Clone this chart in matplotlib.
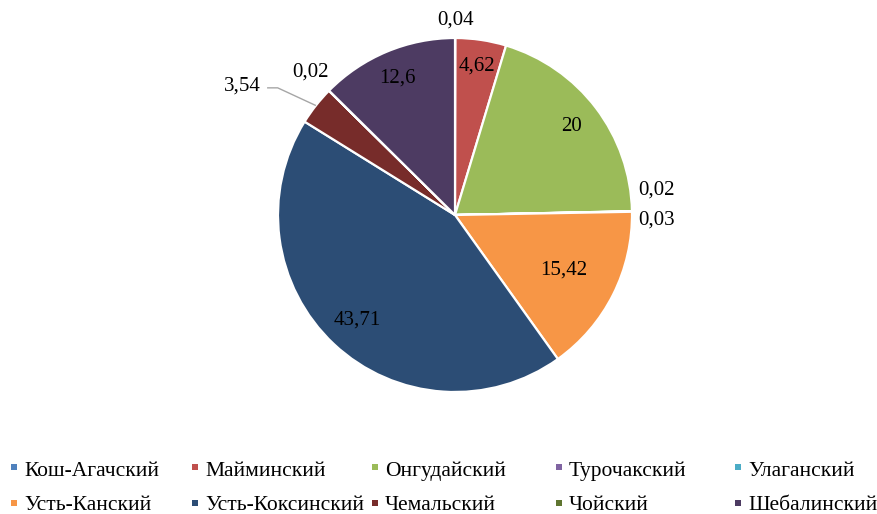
import numpy as np
import matplotlib.pyplot as plt
from matplotlib.patches import Rectangle

plt.rcParams['font.family'] = ['Liberation Serif', 'DejaVu Serif']

districts = ['Кош-Агачский', 'Майминский', 'Онгудайский', 'Турочакский', 'Улаганский',
             'Усть-Канский', 'Усть-Коксинский', 'Чемальский', 'Чойский', 'Шебалинский']
shares = [0.04, 4.62, 20, 0.02, 0.03, 15.42, 43.71, 3.54, 0.02, 12.6]
labels = ['0,04', '4,62', '20', '0,02', '0,03', '15,42', '43,71', '3,54', '0,02', '12,6']
colors = ['#4F81BD', '#C0504D', '#9BBB59', '#8064A2', '#4BACC6',
          '#F79646', '#2C4D75', '#772C2A', '#5F7530', '#4D3B62']

# label placement: radius factor and nudge (data units)
lab_r = [1.10, 0.85, 0.83, 1.14, 1.14, 0.69, 0.81, 1.30, 1.15, 0.84]
lab_nudge = [(0, 0), (0, 0), (0, 0), (0, 0.12), (0, -0.05),
             (0, 0), (0, 0), (-0.18, -0.075), (0, 0), (0, 0)]

W, H = 878, 514
fig = plt.figure(figsize=(W / 100, H / 100), dpi=100)
R = 177
lim = 1.35
side = 2 * lim * R
cx, cy = 455, H - 215
ax = fig.add_axes([(cx - side / 2) / W, (cy - side / 2) / H, side / W, side / H])

wedges, _ = ax.pie(shares, colors=colors, startangle=90, counterclock=False,
                   wedgeprops=dict(edgecolor='white', linewidth=1.6))
ax.set_xlim(-lim, lim)
ax.set_ylim(-lim, lim)
ax.set_aspect('equal')
ax.axis('off')

for i, w in enumerate(wedges):
    mid = np.deg2rad((w.theta1 + w.theta2) / 2)
    x = lab_r[i] * np.cos(mid) + lab_nudge[i][0]
    y = lab_r[i] * np.sin(mid) + lab_nudge[i][1]
    ax.text(x, y, labels[i], ha='center', va='center', fontsize=15,
            family='Liberation Serif', color='black')
    if i == 7:
        ex, ey = np.cos(mid), np.sin(mid)
        lx = x + 0.14
        ax.plot([ex, lx + 0.06, lx], [ey, ey + 0.1, ey + 0.1], color='#A6A6A6',
                linewidth=1, solid_capstyle='butt')

# legend
col_x = [11, 192, 372, 556, 735]
mark_y = [467, 503]
base_y = [476, 510]
for i, name in enumerate(districts):
    c, r = i % 5, i // 5
    mx = col_x[c]
    fig.add_artist(Rectangle((mx / W, (H - mark_y[r] - 3) / H), 6 / W, 6 / H,
                             transform=fig.transFigure, facecolor=colors[i], edgecolor='none'))
    fig.text((mx + 13) / W, (H - base_y[r]) / H, name, ha='left', va='baseline',
             fontsize=15.5, family='Liberation Serif')

fig.savefig('out.png', dpi=100)
